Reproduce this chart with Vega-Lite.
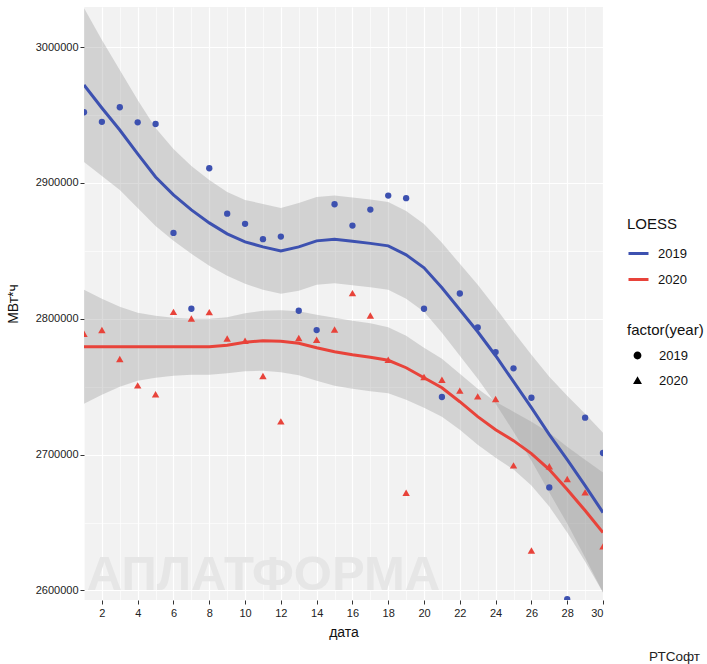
{
  "$schema": "https://vega.github.io/schema/vega-lite/v6.json",
  "width": 519,
  "height": 593,
  "autosize": "none",
  "padding": {"left": 84, "top": 7, "right": 104, "bottom": 64},
  "background": "white",
  "title": {"text": "РТСофт", "orient": "bottom", "anchor": "end", "frame": "group", "fontSize": 13.5, "fontWeight": "normal", "font": "Liberation Sans", "color": "#222222", "dx": 97, "offset": 11},
  "datasets": {
    "pts": [
      {"date": 1, "year": "2019", "value": 2952000}, {"date": 2, "year": "2019", "value": 2945000}, {"date": 3, "year": "2019", "value": 2955700},
      {"date": 4, "year": "2019", "value": 2944600}, {"date": 5, "year": "2019", "value": 2943400}, {"date": 6, "year": "2019", "value": 2863200},
      {"date": 7, "year": "2019", "value": 2807400}, {"date": 8, "year": "2019", "value": 2910800}, {"date": 9, "year": "2019", "value": 2877400},
      {"date": 10, "year": "2019", "value": 2869900}, {"date": 11, "year": "2019", "value": 2858600}, {"date": 12, "year": "2019", "value": 2860500},
      {"date": 13, "year": "2019", "value": 2805900}, {"date": 14, "year": "2019", "value": 2791700}, {"date": 15, "year": "2019", "value": 2884300},
      {"date": 16, "year": "2019", "value": 2868600}, {"date": 17, "year": "2019", "value": 2880400}, {"date": 18, "year": "2019", "value": 2890700},
      {"date": 19, "year": "2019", "value": 2888800}, {"date": 20, "year": "2019", "value": 2807400}, {"date": 21, "year": "2019", "value": 2742400},
      {"date": 22, "year": "2019", "value": 2818600}, {"date": 23, "year": "2019", "value": 2793600}, {"date": 24, "year": "2019", "value": 2775500},
      {"date": 25, "year": "2019", "value": 2763500}, {"date": 26, "year": "2019", "value": 2741900}, {"date": 27, "year": "2019", "value": 2675900},
      {"date": 28, "year": "2019", "value": 2593600}, {"date": 29, "year": "2019", "value": 2727200}, {"date": 30, "year": "2019", "value": 2701200},
      {"date": 1, "year": "2020", "value": 2789000}, {"date": 2, "year": "2020", "value": 2791700}, {"date": 3, "year": "2020", "value": 2770400},
      {"date": 4, "year": "2020", "value": 2751000}, {"date": 5, "year": "2020", "value": 2744400}, {"date": 6, "year": "2020", "value": 2805100},
      {"date": 7, "year": "2020", "value": 2800200}, {"date": 8, "year": "2020", "value": 2804900}, {"date": 9, "year": "2020", "value": 2785500},
      {"date": 10, "year": "2020", "value": 2783800}, {"date": 11, "year": "2020", "value": 2757900}, {"date": 12, "year": "2020", "value": 2724500},
      {"date": 13, "year": "2020", "value": 2785800}, {"date": 14, "year": "2020", "value": 2784600}, {"date": 15, "year": "2020", "value": 2792100},
      {"date": 16, "year": "2020", "value": 2818900}, {"date": 17, "year": "2020", "value": 2802400}, {"date": 18, "year": "2020", "value": 2769900},
      {"date": 19, "year": "2020", "value": 2671900}, {"date": 20, "year": "2020", "value": 2757200}, {"date": 21, "year": "2020", "value": 2755100},
      {"date": 22, "year": "2020", "value": 2747100}, {"date": 23, "year": "2020", "value": 2742900}, {"date": 24, "year": "2020", "value": 2741000},
      {"date": 25, "year": "2020", "value": 2692100}, {"date": 26, "year": "2020", "value": 2629400}, {"date": 27, "year": "2020", "value": 2691400},
      {"date": 28, "year": "2020", "value": 2682100}, {"date": 29, "year": "2020", "value": 2672200}, {"date": 30, "year": "2020", "value": 2632500}
    ],
    "fit": [
      {"date": 1, "year": "2019", "fit": 2972060, "lo": 2915440, "hi": 3028680},
      {"date": 2, "year": "2019", "fit": 2955150, "lo": 2905150, "hi": 3005150},
      {"date": 3, "year": "2019", "fit": 2938970, "lo": 2894850, "hi": 2983090},
      {"date": 4, "year": "2019", "fit": 2921320, "lo": 2881610, "hi": 2961030},
      {"date": 5, "year": "2019", "fit": 2904410, "lo": 2868380, "hi": 2940440},
      {"date": 6, "year": "2019", "fit": 2891180, "lo": 2857360, "hi": 2925000},
      {"date": 7, "year": "2019", "fit": 2880150, "lo": 2847800, "hi": 2912500},
      {"date": 8, "year": "2019", "fit": 2870590, "lo": 2838970, "hi": 2902210},
      {"date": 9, "year": "2019", "fit": 2862500, "lo": 2831620, "hi": 2893380},
      {"date": 10, "year": "2019", "fit": 2856620, "lo": 2825740, "hi": 2887500},
      {"date": 11, "year": "2019", "fit": 2852940, "lo": 2821320, "hi": 2884560},
      {"date": 12, "year": "2019", "fit": 2850000, "lo": 2818380, "hi": 2881620},
      {"date": 13, "year": "2019", "fit": 2852940, "lo": 2820590, "hi": 2885290},
      {"date": 14, "year": "2019", "fit": 2857350, "lo": 2825000, "hi": 2889700},
      {"date": 15, "year": "2019", "fit": 2858460, "lo": 2826110, "hi": 2890810},
      {"date": 16, "year": "2019", "fit": 2856990, "lo": 2824640, "hi": 2889340},
      {"date": 17, "year": "2019", "fit": 2855510, "lo": 2823160, "hi": 2887860},
      {"date": 18, "year": "2019", "fit": 2853680, "lo": 2821330, "hi": 2886030},
      {"date": 19, "year": "2019", "fit": 2847060, "lo": 2814710, "hi": 2879410},
      {"date": 20, "year": "2019", "fit": 2837500, "lo": 2805150, "hi": 2869850},
      {"date": 21, "year": "2019", "fit": 2822790, "lo": 2789700, "hi": 2855880},
      {"date": 22, "year": "2019", "fit": 2806620, "lo": 2772800, "hi": 2840440},
      {"date": 23, "year": "2019", "fit": 2790440, "lo": 2755880, "hi": 2825000},
      {"date": 24, "year": "2019", "fit": 2772790, "lo": 2737500, "hi": 2808080},
      {"date": 25, "year": "2019", "fit": 2753680, "lo": 2716910, "hi": 2790450},
      {"date": 26, "year": "2019", "fit": 2734560, "lo": 2695590, "hi": 2773530},
      {"date": 27, "year": "2019", "fit": 2714710, "lo": 2672060, "hi": 2757360},
      {"date": 28, "year": "2019", "fit": 2696320, "lo": 2649260, "hi": 2743380},
      {"date": 29, "year": "2019", "fit": 2677210, "lo": 2624270, "hi": 2730150},
      {"date": 30, "year": "2019", "fit": 2657350, "lo": 2598530, "hi": 2716170},
      {"date": 1, "year": "2020", "fit": 2779410, "lo": 2737500, "hi": 2821320},
      {"date": 2, "year": "2020", "fit": 2779400, "lo": 2744110, "hi": 2814690},
      {"date": 3, "year": "2020", "fit": 2779400, "lo": 2749990, "hi": 2808810},
      {"date": 4, "year": "2020", "fit": 2779410, "lo": 2754410, "hi": 2804410},
      {"date": 5, "year": "2020", "fit": 2779410, "lo": 2756620, "hi": 2802200},
      {"date": 6, "year": "2020", "fit": 2779410, "lo": 2758090, "hi": 2800730},
      {"date": 7, "year": "2020", "fit": 2779410, "lo": 2758820, "hi": 2800000},
      {"date": 8, "year": "2020", "fit": 2779410, "lo": 2758820, "hi": 2800000},
      {"date": 9, "year": "2020", "fit": 2780510, "lo": 2759920, "hi": 2801100},
      {"date": 10, "year": "2020", "fit": 2782720, "lo": 2761400, "hi": 2804040},
      {"date": 11, "year": "2020", "fit": 2783820, "lo": 2761760, "hi": 2805880},
      {"date": 12, "year": "2020", "fit": 2783450, "lo": 2760660, "hi": 2806240},
      {"date": 13, "year": "2020", "fit": 2781980, "lo": 2758450, "hi": 2805510},
      {"date": 14, "year": "2020", "fit": 2778670, "lo": 2754410, "hi": 2802930},
      {"date": 15, "year": "2020", "fit": 2775730, "lo": 2750730, "hi": 2800730},
      {"date": 16, "year": "2020", "fit": 2773530, "lo": 2748530, "hi": 2798530},
      {"date": 17, "year": "2020", "fit": 2771690, "lo": 2746690, "hi": 2796690},
      {"date": 18, "year": "2020", "fit": 2769480, "lo": 2745220, "hi": 2793740},
      {"date": 19, "year": "2020", "fit": 2763970, "lo": 2740440, "hi": 2787500},
      {"date": 20, "year": "2020", "fit": 2756620, "lo": 2734560, "hi": 2778680},
      {"date": 21, "year": "2020", "fit": 2749260, "lo": 2727940, "hi": 2770580},
      {"date": 22, "year": "2020", "fit": 2738970, "lo": 2718380, "hi": 2759560},
      {"date": 23, "year": "2020", "fit": 2727940, "lo": 2707350, "hi": 2748530},
      {"date": 24, "year": "2020", "fit": 2718380, "lo": 2697790, "hi": 2738970},
      {"date": 25, "year": "2020", "fit": 2710290, "lo": 2688970, "hi": 2731610},
      {"date": 26, "year": "2020", "fit": 2700730, "lo": 2677200, "hi": 2724260},
      {"date": 27, "year": "2020", "fit": 2688970, "lo": 2661760, "hi": 2716180},
      {"date": 28, "year": "2020", "fit": 2674260, "lo": 2642640, "hi": 2705880},
      {"date": 29, "year": "2020", "fit": 2658820, "lo": 2621320, "hi": 2696320},
      {"date": 30, "year": "2020", "fit": 2642640, "lo": 2598520, "hi": 2686760}
    ],
    "mark": [{"label": "АПЛАТФОРМА"}]
  },
  "resolve": {"axis": {"x": "independent", "y": "independent"}, "legend": {"color": "independent", "shape": "independent"}},
  "layer": [
    {
      "data": {"name": "mark"},
      "mark": {"type": "text", "align": "left", "baseline": "bottom", "fontSize": 49, "fontWeight": "bold", "font": "Liberation Sans", "color": "#e6e6e6", "clip": true},
      "encoding": {
        "x": {"datum": 1.15, "type": "quantitative", "scale": {"domain": [1, 30], "nice": false, "zero": false},
              "axis": {"orient": "top", "values": [1,3,5,7,9,11,13,15,17,19,21,23,25,27,29], "grid": true, "gridColor": "white", "gridWidth": 0.6, "labels": false, "ticks": false, "domain": false, "title": null}},
        "y": {"datum": 2593300, "type": "quantitative", "scale": {"domain": [2593000, 3029500], "nice": false, "zero": false},
              "axis": {"orient": "right", "values": [2650000, 2750000, 2850000, 2950000], "grid": true, "gridColor": "white", "gridWidth": 0.6, "labels": false, "ticks": false, "domain": false, "title": null}},
        "text": {"field": "label"}
      }
    },
    {
      "data": {"name": "fit"},
      "mark": {"type": "area", "color": "#999999", "opacity": 0.35, "clip": true},
      "encoding": {
        "x": {"field": "date", "type": "quantitative",
              "axis": {"orient": "bottom", "values": [2,4,6,8,10,12,14,16,18,20,22,24,26,28,30], "grid": true, "gridColor": "white", "gridWidth": 1.2, "domain": false, "tickColor": "#333333", "tickSize": 4, "labelPadding": 3, "labelFontSize": 11, "labelColor": "#222222", "labelFont": "Liberation Sans", "title": "дата", "titleFont": "Liberation Sans", "titleFontSize": 14, "titleFontWeight": "normal", "titleColor": "#111111", "titlePadding": 7}},
        "y": {"field": "lo", "type": "quantitative",
              "axis": {"orient": "left", "values": [2600000, 2700000, 2800000, 2900000, 3000000], "format": "d", "grid": true, "gridColor": "white", "gridWidth": 1.2, "domain": false, "tickColor": "#333333", "tickSize": 4, "labelPadding": 2, "labelFontSize": 11, "labelColor": "#222222", "labelFont": "Liberation Sans", "title": "МВт*ч", "titleFont": "Liberation Sans", "titleFontSize": 14, "titleFontWeight": "normal", "titleColor": "#111111", "titlePadding": 15}},
        "y2": {"field": "hi"},
        "detail": {"field": "year"}
      }
    },
    {
      "data": {"name": "fit"},
      "mark": {"type": "line", "strokeWidth": 3, "clip": true},
      "encoding": {
        "x": {"field": "date", "type": "quantitative", "axis": null},
        "y": {"field": "fit", "type": "quantitative", "axis": null},
        "color": {"field": "year", "type": "nominal",
                  "scale": {"range": ["#3d51b0", "#e8433a"]},
                  "legend": {"title": "LOESS", "orient": "none", "legendX": 543, "legendY": 210, "symbolType": "stroke", "symbolStrokeWidth": 3, "symbolSize": 400, "titleFont": "Liberation Sans", "titleFontSize": 15, "titleFontWeight": "normal", "titleColor": "#111111", "titlePadding": 10, "labelFont": "Liberation Sans", "labelFontSize": 13, "labelColor": "#111111", "labelOffset": 8, "rowPadding": 7}}
      }
    },
    {
      "data": {"name": "pts"},
      "mark": {"type": "point", "filled": true, "opacity": 1, "clip": true},
      "encoding": {
        "x": {"field": "date", "type": "quantitative", "axis": null},
        "y": {"field": "value", "type": "quantitative", "axis": null},
        "color": {"field": "year", "type": "nominal", "legend": null},
        "shape": {"field": "year", "type": "nominal",
                  "scale": {"range": ["circle", "triangle-up"]},
                  "legend": {"title": "factor(year)", "orient": "none", "legendX": 543, "legendY": 316, "symbolFillColor": "black", "symbolStrokeColor": "black", "symbolSize": 40, "symbolOffset": 4, "titleFont": "Liberation Sans", "titleFontSize": 15, "titleFontWeight": "normal", "titleColor": "#111111", "titlePadding": 11, "labelFont": "Liberation Sans", "labelFontSize": 13, "labelColor": "#111111", "labelOffset": 15, "rowPadding": 11}},
        "size": {"field": "year", "type": "nominal", "scale": {"range": [40, 55]}, "legend": null}
      }
    }
  ],
  "config": {
    "view": {"fill": "#f2f2f2", "stroke": null},
    "font": "Liberation Sans"
  }
}
